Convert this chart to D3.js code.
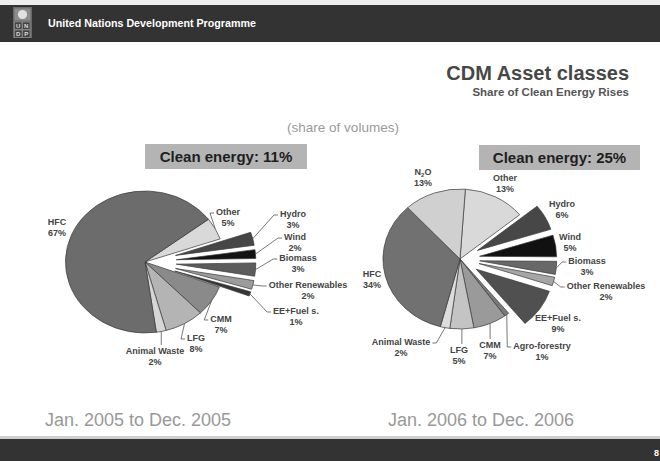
<!DOCTYPE html>
<html>
<head>
<meta charset="utf-8">
<script src="https://cdn.jsdelivr.net/npm/d3@7"></script>
<style>
  html, body { margin: 0; padding: 0; background: #fff; }
  svg { display: block; }
  text { font-family: "Liberation Sans", Arial, Helvetica, sans-serif; }
</style>
</head>
<body>
<svg id="chart" width="660" height="461"></svg>
<script>
// ---- data: CDM asset classes, share of volumes (%) ----
// slices listed clockwise, starting with "Other"
const categories2005 = ["Other", "Hydro", "Wind", "Biomass", "Other Renewables", "EE+Fuel s.", "CMM", "LFG", "Animal Waste", "HFC"];
const shares2005     = [5, 3, 2, 3, 2, 1, 7, 8, 2, 67];
const clean2005      = [false, true, true, true, true, true, false, false, false, false];

const categories2006 = ["Other", "Hydro", "Wind", "Biomass", "Other Renewables", "EE+Fuel s.", "Agro-forestry", "CMM", "LFG", "Animal Waste", "HFC", "N2O"];
const shares2006     = [13, 6, 5, 3, 2, 9, 1, 7, 5, 2, 34, 13];
const clean2006      = [false, true, true, true, true, true, false, false, false, false, false, false];

const periodLabels = ["Jan. 2005 to Dec. 2005", "Jan. 2006 to Dec. 2006"];

// ---- styling ----
const greys2005 = ["#d9d9d9", "#464646", "#121212", "#5c5c5c", "#9c9c9c", "#363636", "#8a8a8a", "#b4b4b4", "#d6d6d6", "#6c6c6c"];
const greys2006 = ["#d9d9d9", "#474747", "#111111", "#686868", "#a6a6a6", "#505050", "#7a7a7a", "#9a9a9a", "#c4c4c4", "#dcdcdc", "#717171", "#d0d0d0"];

// label centre [x, y] and how its leader line attaches
const labelLayout2005 = [
  [228, 212, "left"], [293, 214, "left"], [295, 237, "left"], [298, 258, "left"],
  [308, 285, "left"], [296, 311, "left"], [221, 319, "left"], [196, 338, "left"],
  [155, 351, "top"], [57, 222, null]
];
const labelLayout2006 = [
  [505, 178, null], [562, 204, null], [570, 237, null], [587, 261, "left"],
  [606, 286, "left"], [558, 318, null], [542, 346, "left"], [490, 345, "top"],
  [459, 350, "top"], [401, 342, "right"], [372, 274, null], [423, 172, null]
];

const svg = d3.select("#chart");
const FONT_LABEL = 9;

// ---- page frame ----
svg.append("rect").attr("x", 0).attr("y", 0).attr("width", 660).attr("height", 5).attr("fill", "#eeeeee");
svg.append("rect").attr("x", 0).attr("y", 5).attr("width", 660).attr("height", 37).attr("fill", "#333333");
svg.append("rect").attr("x", 0).attr("y", 436).attr("width", 660).attr("height", 3).attr("fill", "#cfcfcf");
svg.append("rect").attr("x", 0).attr("y", 439).attr("width", 660).attr("height", 22).attr("fill", "#333333");

// UNDP logo
const logo = svg.append("g").attr("transform", "translate(13,7)");
logo.append("rect").attr("width", 19).attr("height", 31).attr("fill", "#6a6a6a");
logo.append("rect").attr("x", 1.5).attr("y", 1.5).attr("width", 16).attr("height", 12).attr("fill", "#8c8c8c");
logo.append("circle").attr("cx", 9.5).attr("cy", 7.5).attr("r", 4.6).attr("fill", "#e0e0e0");
[["U", 0, 0], ["N", 1, 0], ["D", 0, 1], ["P", 1, 1]].forEach(([ch, i, j]) => {
  logo.append("rect").attr("x", 1.5 + i * 8).attr("y", 15 + j * 8).attr("width", 7.5).attr("height", 7.5)
    .attr("fill", "#444").attr("stroke", "#9a9a9a").attr("stroke-width", 0.6);
  logo.append("text").attr("x", 5.25 + i * 8).attr("y", 21 + j * 8).attr("text-anchor", "middle")
    .attr("font-size", 6).attr("font-weight", "bold").attr("fill", "#dddddd").text(ch);
});

svg.append("text").attr("x", 48).attr("y", 27).attr("font-size", 10.7).attr("font-weight", "bold")
  .attr("fill", "#ffffff").text("United Nations Development Programme");
svg.append("text").attr("x", 659).attr("y", 456).attr("text-anchor", "end").attr("font-size", 9)
  .attr("font-weight", "bold").attr("fill", "#ffffff").text("8");

// ---- titles ----
svg.append("text").attr("x", 629).attr("y", 80).attr("text-anchor", "end").attr("font-size", 20)
  .attr("font-weight", "bold").attr("fill", "#474747").text("CDM Asset classes");
svg.append("text").attr("x", 629).attr("y", 96).attr("text-anchor", "end").attr("font-size", 11.5)
  .attr("font-weight", "bold").attr("fill", "#555555").text("Share of Clean Energy Rises");
svg.append("text").attr("x", 343).attr("y", 132).attr("text-anchor", "middle").attr("font-size", 13.5)
  .attr("fill", "#9a9a9a").text("(share of volumes)");

// ---- one pie per period ----
function drawPie(cfg) {
  const data = cfg.cats.map((c, i) => ({ name: c, value: cfg.vals[i], clean: cfg.clean[i], color: cfg.colors[i], layout: cfg.layout[i] }));
  const a0 = cfg.start * Math.PI / 180;
  const pie = d3.pie().sort(null).value(d => d.value).startAngle(a0).endAngle(a0 + 2 * Math.PI);
  const arcs = pie(data);
  const arc = d3.arc().innerRadius(0).outerRadius(cfg.r);

  const shift = d => d.data.clean ? cfg.explode : 0;
  const mid = d => (d.startAngle + d.endAngle) / 2;

  const g = svg.append("g").attr("transform", `translate(${cfg.cx},${cfg.cy}) scale(${cfg.sx},1)`);
  g.selectAll("path").data(arcs).join("path")
    .attr("transform", d => `translate(${Math.sin(mid(d)) * shift(d)},${-Math.cos(mid(d)) * shift(d)})`)
    .attr("d", arc)
    .attr("fill", d => d.data.color)
    .attr("stroke", "#3a3a3a")
    .attr("stroke-width", 0.7)
    .attr("vector-effect", "non-scaling-stroke");

  // labels
  const lab = svg.append("g");
  arcs.forEach(d => {
    const [lx, ly, mode] = d.data.layout;
    const t = lab.append("text").attr("x", lx).attr("y", ly + 3).attr("text-anchor", "middle")
      .attr("font-size", FONT_LABEL).attr("font-weight", "bold").attr("fill", "#444444");
    if (d.data.name === "N2O") {
      t.append("tspan").text("N");
      t.append("tspan").attr("font-size", 6).attr("dy", 2).text("2");
      t.append("tspan").attr("dy", -2).text("O");
    } else {
      t.text(d.data.name);
    }
    lab.append("text").attr("x", lx).attr("y", ly + 13.5).attr("text-anchor", "middle")
      .attr("font-size", FONT_LABEL).attr("font-weight", "bold").attr("fill", "#444444")
      .text(d.data.value + "%");

    if (mode) {
      const w = t.node().getComputedTextLength();
      const R = cfg.r + shift(d);
      const m = mid(d);
      const sx0 = cfg.cx + Math.sin(m) * R * cfg.sx;
      const sy0 = cfg.cy - Math.cos(m) * R;
      let pts;
      if (mode === "left") {
        const ex = lx - w / 2 - 2, ey = ly + 1;
        pts = [[sx0, sy0], [ex - 4, ey], [ex, ey]];
      } else if (mode === "right") {
        const ex = lx + w / 2 + 2, ey = ly + 1;
        pts = [[sx0, sy0], [ex + 4, ey], [ex, ey]];
      } else {
        pts = [[sx0, sy0], [sx0, ly - 6]];
      }
      lab.append("path").attr("d", d3.line()(pts)).attr("fill", "none")
        .attr("stroke", "#555555").attr("stroke-width", 0.8);
    }
  });

  // clean energy total box
  const cleanTotal = d3.sum(data.filter(d => d.clean), d => d.value);
  svg.append("rect").attr("x", cfg.box[0]).attr("y", cfg.box[1]).attr("width", cfg.box[2]).attr("height", cfg.box[3])
    .attr("fill", "#b4b4b4");
  svg.append("text").attr("x", cfg.box[0] + cfg.box[2] / 2).attr("y", cfg.box[1] + cfg.box[3] / 2 + 5.5)
    .attr("text-anchor", "middle").attr("font-size", 15).attr("font-weight", "bold").attr("fill", "#1e1e1e")
    .text("Clean energy: " + cleanTotal + "%");

  // period caption
  svg.append("text").attr("x", cfg.periodX).attr("y", 426).attr("text-anchor", "middle")
    .attr("font-size", 18).attr("fill", "#999999").text(cfg.period);
}

drawPie({
  cats: categories2005, vals: shares2005, clean: clean2005, colors: greys2005, layout: labelLayout2005,
  cx: 145, cy: 262, r: 71, sx: 1.12, explode: 28, start: 53,
  box: [145, 144, 162, 25], period: periodLabels[0], periodX: 138
});
drawPie({
  cats: categories2006, vals: shares2006, clean: clean2006, colors: greys2006, layout: labelLayout2006,
  cx: 460, cy: 259, r: 70, sx: 1.1, explode: 18, start: 4,
  box: [479, 145, 161, 25], period: periodLabels[1], periodX: 481
});
</script>
</body>
</html>
